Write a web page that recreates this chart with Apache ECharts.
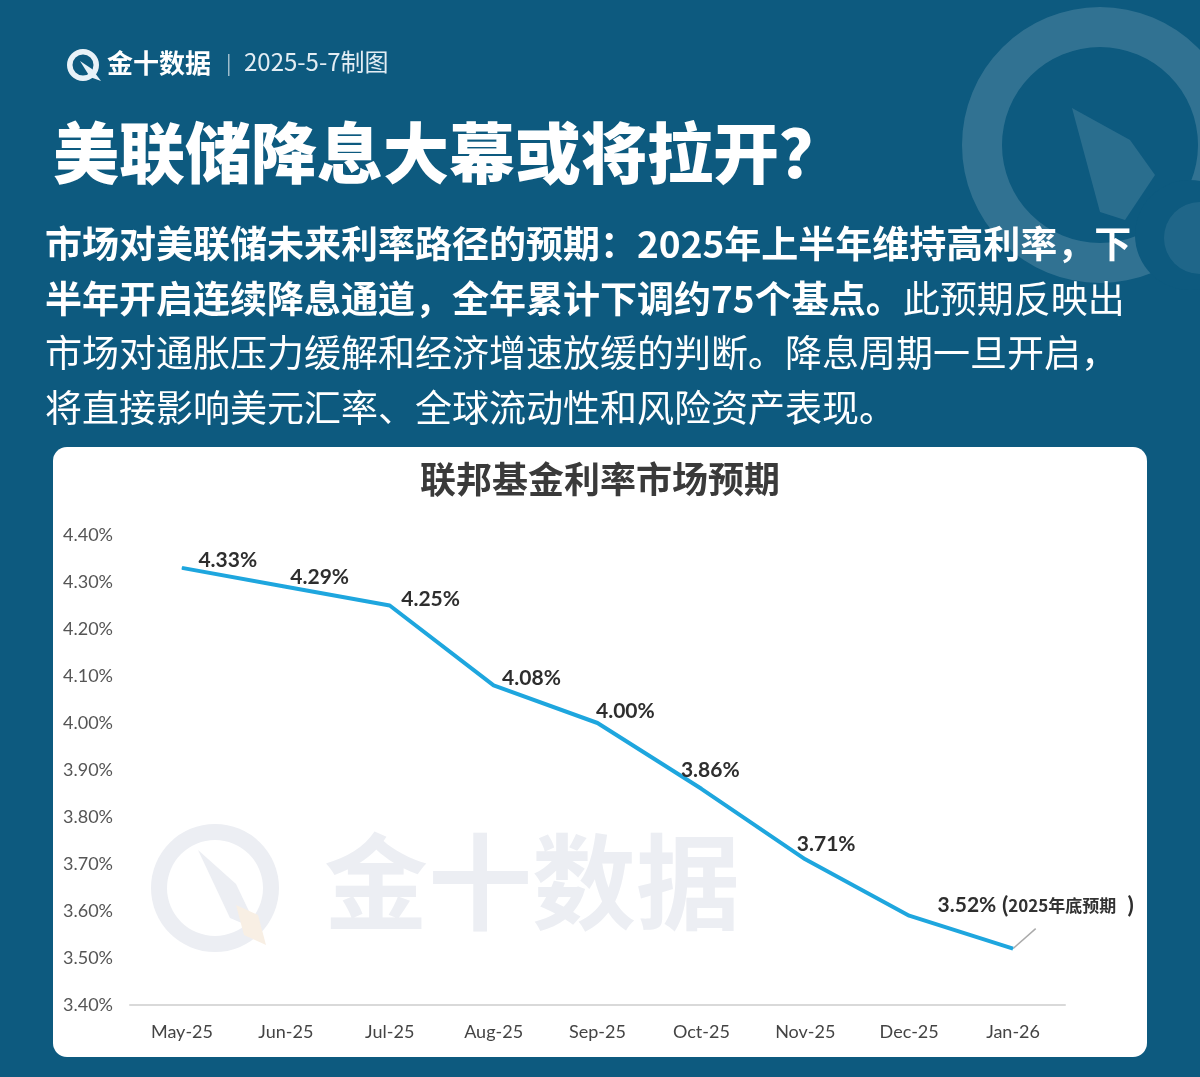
<!DOCTYPE html>
<html>
<head>
<meta charset="utf-8">
<script src="https://cdn.jsdelivr.net/npm/echarts@6/dist/echarts.min.js"></script>
<style>
  html, body { margin: 0; padding: 0; background: #0d5a7f; }
  #main { width: 1200px; height: 1077px; }
</style>
</head>
<body>
<div id="main"></div>
<script>
// data
var months = ['May-25', 'Jun-25', 'Jul-25', 'Aug-25', 'Sep-25', 'Oct-25', 'Nov-25', 'Dec-25', 'Jan-26'];
var rates = [4.33, 4.29, 4.25, 4.08, 4.00, 3.86, 3.71, 3.59, 3.52];
var showLabel = [true, true, true, true, true, true, true, false, true];
var yMin = 3.4, yMax = 4.4, yStep = 0.1;

// label placement (px offsets from the point)
var labelOffsets = [[11, -8], [-1, -9], [6, -6], [3, -7], [-7, -12], [-26, -19], [-14, -15], [0, 0], [-81, -43]];

var CJK = '"Noto Sans CJK SC", sans-serif';
var LAT = 'Lato, "Open Sans", sans-serif';

var chart = echarts.init(document.getElementById('main'), null, { renderer: 'canvas' });

var seriesData = rates.map(function (v, i) {
  var item = {
    value: v,
    label: {
      show: showLabel[i],
      position: 'right',
      offset: labelOffsets[i]
    }
  };
  if (i === rates.length - 1) {
    item.label.formatter = '{a|' + v.toFixed(2) + '%}{p| (}{c|2025年底预期}{p|  )}';
    item.labelLine = { show: true, lineStyle: { color: '#aaaaaa', width: 1.5 } };
  }
  return item;
});

var option = {
  backgroundColor: '#0d5a7f',
  animation: false,
  grid: { left: 130, right: 135, top: 535, bottom: 72 },
  xAxis: {
    type: 'category',
    data: months,
    boundaryGap: true,
    axisLine: { show: true, lineStyle: { color: '#d9d9d9', width: 2 } },
    axisTick: { show: false },
    axisLabel: { color: '#444', fontSize: 18, fontFamily: LAT, margin: 18 }
  },
  yAxis: {
    type: 'value',
    min: yMin,
    max: yMax,
    interval: yStep,
    axisLine: { show: false },
    axisTick: { show: false },
    splitLine: { show: false },
    axisLabel: {
      color: '#555',
      fontSize: 18,
      fontFamily: LAT,
      margin: 17,
      formatter: function (v) { return v.toFixed(2) + '%'; }
    }
  },
  series: [{
    type: 'line',
    data: seriesData,
    symbol: 'circle',
    symbolSize: 1,
    showSymbol: true,
    itemStyle: { color: '#1ea6de' },
    lineStyle: { color: '#1ea6de', width: 4 },
    z: 5,
    label: {
      color: '#2e2e2e',
      fontSize: 21,
      fontWeight: 'bold',
      fontFamily: LAT,
      formatter: function (p) { return p.value.toFixed(2) + '%'; },
      rich: {
        a: { color: '#2e2e2e', fontSize: 21, fontWeight: 'bold', fontFamily: LAT },
        p: { color: '#2e2e2e', fontSize: 23, fontWeight: 'bold', fontFamily: LAT },
        c: { color: '#333', fontSize: 17, fontWeight: 'bold', fontFamily: CJK }
      }
    }
  }],
  graphic: [
    // decorative ring top right
    { type: 'ring', z: -20, shape: { cx: 1100, cy: 145, r: 138, r0: 98 }, style: { fill: 'rgba(255,255,255,0.15)' } },
    { type: 'polygon', z: -20, shape: { points: [[1072, 108], [1130, 140], [1155, 175], [1125, 220], [1100, 212]] }, style: { fill: 'rgba(255,255,255,0.12)' } },
    { type: 'circle', z: -19, shape: { cx: 1190, cy: 235, r: 55 }, style: { fill: '#0d5a7f' } },
    { type: 'circle', z: -19, shape: { cx: 1200, cy: 238, r: 36 }, style: { fill: 'rgba(255,255,255,0.08)' } },

    // header logo
    { type: 'ring', shape: { cx: 83, cy: 65, r: 16, r0: 10.5 }, style: { fill: '#e9f2f8' } },
    { type: 'polygon', shape: { points: [[80, 61], [92, 69], [101, 81], [90, 77]] }, style: { fill: '#e9f2f8' } },
    { type: 'text', left: 107, top: 50, style: { text: '金十数据', fill: '#ffffff', font: 'bold 26px ' + CJK } },
    { type: 'rect', shape: { x: 228, y: 54, width: 1.5, height: 22 }, style: { fill: 'rgba(255,255,255,0.6)' } },
    { type: 'text', left: 244, top: 50, style: { text: '2025-5-7制图', fill: '#e3edf4', font: '24px ' + CJK } },

    // main title
    { type: 'text', left: 53, top: 120, style: { text: '美联储降息大幕或将拉开？', fill: '#ffffff', font: '900 66px ' + CJK } },

    // paragraph
    {
      type: 'text', left: 45, top: 217,
      style: {
        text: '{b|市场对美联储未来利率路径的预期：2025年上半年维持高利率，下}\n' +
              '{b|半年开启连续降息通道，全年累计下调约75个基点。}{n|此预期反映出}\n' +
              '{n|市场对通胀压力缓解和经济增速放缓的判断。降息周期一旦开启，}\n' +
              '{n|将直接影响美元汇率、全球流动性和风险资产表现。}',
        fill: '#ffffff',
        lineHeight: 54.5,
        rich: {
          b: { fill: '#ffffff', font: 'bold 37px ' + CJK, lineHeight: 54.5 },
          n: { fill: '#ffffff', font: '37px ' + CJK, lineHeight: 54.5 }
        }
      }
    },

    // white card
    { type: 'rect', z: -10, shape: { x: 53, y: 447, width: 1094, height: 610, r: 14 }, style: { fill: '#ffffff' } },

    // chart title
    { type: 'text', left: 'center', top: 461, style: { text: '联邦基金利率市场预期', fill: '#3a3a3a', font: 'bold 36px ' + CJK } },

    // watermark
    { type: 'ring', z: -5, shape: { cx: 215, cy: 888, r: 64, r0: 48 }, style: { fill: '#eceef3' } },
    { type: 'polygon', z: -5, shape: { points: [[198, 850], [236, 884], [258, 930], [230, 918]] }, style: { fill: '#eceef3' } },
    { type: 'polygon', z: -5, shape: { points: [[236, 905], [258, 915], [266, 945], [244, 935]] }, style: { fill: '#f8efe4' } },
    { type: 'text', z: -5, left: 324, top: 830, style: { text: '金十数据', fill: '#eceef3', font: 'bold 104px ' + CJK } }
  ]
};

chart.setOption(option);
</script>
</body>
</html>
